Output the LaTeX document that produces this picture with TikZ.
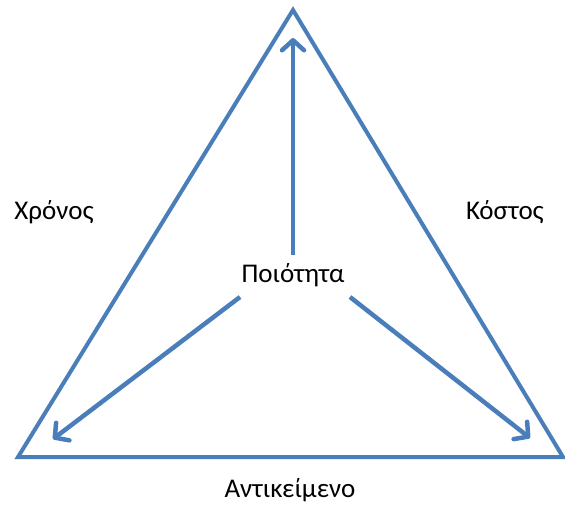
\documentclass[tikz,border=0pt]{standalone}
\usepackage{fontspec}
\setmainfont{Carlito}
\usetikzlibrary{arrows.meta}
\definecolor{edge}{HTML}{4A7EBB}
\begin{document}
\begin{tikzpicture}[x=1pt,y=-1pt,
  side/.style={draw=edge,line width=4pt,line join=miter},
  arr/.style={draw=edge,line width=4.5pt,-{Straight Barb[length=10pt,width=22pt,line cap=round,line join=round]}},
  lbl/.style={font=\fontsize{27}{31}\selectfont,inner sep=0pt}]
\useasboundingbox (0,0) rectangle (565,504);
\coordinate (top) at (293,10);
\coordinate (bl) at (18,457);
\coordinate (br) at (563,457);
\draw[side] (top) -- (bl) -- (br) -- cycle;
\node[lbl] (q) at (293,275) {Ποιότητα};
\node[lbl] (t) at (54,212) {Χρόνος};
\node[lbl] (c) at (505,212) {Κόστος};
\node[lbl] (s) at (290,490) {Αντικείμενο};
\coordinate (us) at (293,255);
\coordinate (ue) at (293,38);
\coordinate (ls) at (240,297);
\coordinate (le) at (53,439);
\coordinate (rs) at (350,297);
\coordinate (re) at (530,438);
\draw[arr] (us) -- (ue);
\draw[arr] (ls) -- (le);
\draw[arr] (rs) -- (re);
\end{tikzpicture}
\end{document}
